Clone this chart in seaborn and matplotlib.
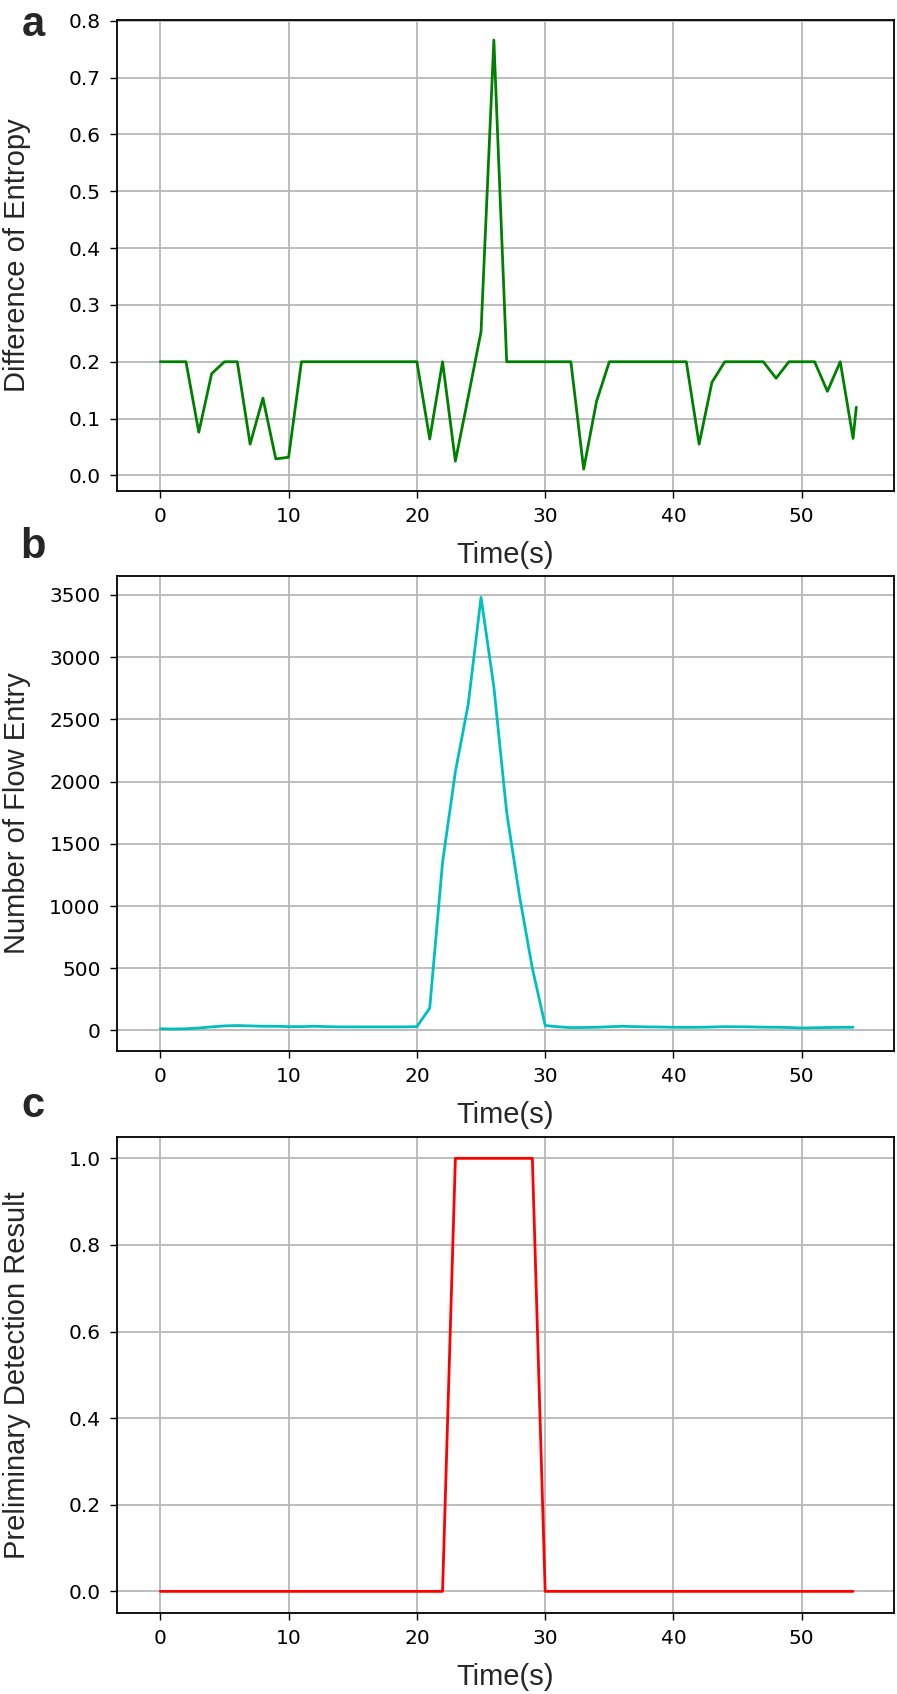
import numpy as np
import matplotlib
matplotlib.use("Agg")
import matplotlib.pyplot as plt
import seaborn as sns

# time axis (s)
time = list(range(55))

# a: difference of entropy (last sample sits a bit after 54 s)
entropy_time = time + [54.25]
entropy_diff = [0.2, 0.2, 0.2, 0.076, 0.179, 0.2, 0.2, 0.055, 0.136, 0.029,
                0.032, 0.2, 0.2, 0.2, 0.2, 0.2, 0.2, 0.2, 0.2, 0.2,
                0.2, 0.064, 0.2, 0.025, 0.138, 0.253, 0.766, 0.2, 0.2, 0.2,
                0.2, 0.2, 0.2, 0.011, 0.13, 0.2, 0.2, 0.2, 0.2, 0.2,
                0.2, 0.2, 0.055, 0.164, 0.2, 0.2, 0.2, 0.2, 0.171, 0.2,
                0.2, 0.2, 0.148, 0.2, 0.065, 0.12]

# b: number of flow entries
flow_entries = [14, 12, 14, 20, 29, 37, 40, 37, 34, 34,
                31, 31, 34, 31, 29, 29, 29, 29, 29, 29,
                31, 180, 1350, 2080, 2620, 3480, 2760, 1750, 1080, 500,
                40, 30, 23, 24, 26, 30, 34, 31, 29, 28,
                26, 25, 26, 28, 31, 30, 29, 27, 26, 24,
                20, 22, 24, 25, 26]

# c: preliminary detection result
detection = [0] * 23 + [1] * 7 + [0] * 25

sns.set_style("ticks")
plt.rcParams['font.family'] = ['DejaVu Sans']

label_font = {'family': 'Liberation Sans', 'size': 21}

fig = plt.figure(figsize=(8.97, 16.94), dpi=100)

panels = [
    # rect, x, y, colour, ylabel, ylim, yticks, yticklabels, letter, letter y
    ([0.1301, 0.7103, 0.8667, 0.2781], entropy_time, entropy_diff, 'green',
     'Difference of Entropy', (-0.027, 0.802),
     np.arange(0, 0.81, 0.1), ['%.1f' % v for v in np.arange(0, 0.81, 0.1)], 'a', 0.9787),
    ([0.1301, 0.3797, 0.8667, 0.2804], time, flow_entries, 'c',
     'Number of Flow Entry', (-163, 3653),
     np.arange(0, 3501, 500), [str(v) for v in range(0, 3501, 500)], 'b', 0.6706),
    ([0.1301, 0.0478, 0.8667, 0.2812], time, detection, 'red',
     'Preliminary Detection Result', (-0.05, 1.05),
     np.arange(0, 1.01, 0.2), ['%.1f' % v for v in np.arange(0, 1.01, 0.2)], 'c', 0.3406),
]

for rect, xs, ys, col, ylab, ylim, yt, ytl, letter, ly in panels:
    ax = fig.add_axes(rect)
    sns.lineplot(x=xs, y=ys, color=col, linewidth=2.0, ax=ax,
                 estimator=None, sort=False)
    ax.set_xlim(-3.4, 57.2)
    ax.set_ylim(*ylim)
    ax.set_xticks([0, 10, 20, 30, 40, 50])
    ax.set_yticks(yt)
    ax.set_yticklabels(ytl)
    ax.grid(True, color='#b8b8b8', linewidth=1.3)
    ax.set_axisbelow(True)
    for s in ax.spines.values():
        s.set_color('black')
        s.set_linewidth(1.3)
    ax.tick_params(axis='both', labelsize=14.5, length=5, width=1.0, pad=6.5,
                   color='black', labelcolor='black')
    ax.set_xlabel('Time(s)', fontdict=label_font, labelpad=11)
    ax.set_ylabel(ylab, fontdict=label_font)
    ax.yaxis.set_label_coords(-0.110, 0.5)
    fig.text(0.0368, ly, letter, fontsize=30, fontweight='bold',
             family='Liberation Sans', ha='center', va='baseline')

fig.savefig('out.png', dpi=100, facecolor='white')
